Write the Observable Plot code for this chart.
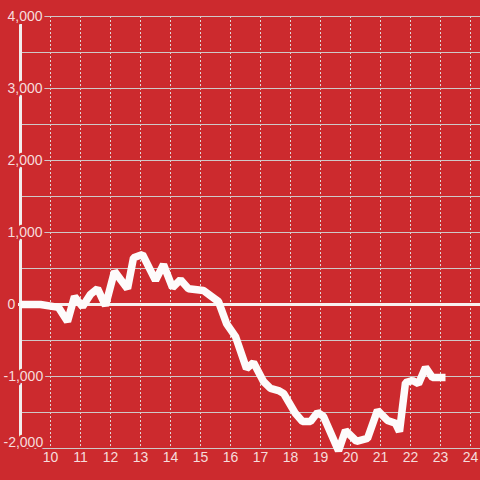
<!DOCTYPE html>
<html>
<head>
<meta charset="utf-8">
<script src="https://cdn.jsdelivr.net/npm/d3@7"></script>
<script src="https://cdn.jsdelivr.net/npm/@observablehq/plot@0.6"></script>
<style>
  html, body { margin: 0; padding: 0; background: #cc2a2e; }
  svg { display: block; }
</style>
</head>
<body>
<div id="chart"></div>
<script>
// Hours of day (x) and values (y)
const hours = [9.0, 9.667, 10.267, 10.567, 10.8, 11.067, 11.333, 11.567, 11.833, 12.133,
  12.567, 12.767, 13.067, 13.5, 13.767, 14.067, 14.333, 14.6, 15.1, 15.6,
  15.867, 16.167, 16.533, 16.767, 17.1, 17.333, 17.6, 17.77, 18.167, 18.4,
  18.667, 18.9, 19.1, 19.6, 19.833, 20.2, 20.567, 20.9, 21.233, 21.5,
  21.633, 21.833, 22.067, 22.267, 22.5, 22.733, 23.167];
const values = [0, 0, -40, -235, 110, -30, 140, 220, -15, 460,
  220, 650, 695, 335, 555, 235, 345, 220, 195, 40,
  -265, -445, -890, -805, -1070, -1165, -1195, -1235, -1515, -1625,
  -1625, -1500, -1555, -2030, -1750, -1900, -1860, -1470, -1610, -1650,
  -1765, -1085, -1055, -1100, -875, -1015, -1015];

const xTicks = [10, 11, 12, 13, 14, 15, 16, 17, 18, 19, 20, 21, 22, 23, 24];
const yGrid = [-2000, -1500, -1000, -500, 500, 1000, 1500, 2000, 2500, 3000, 3500, 4000];
const yLabels = [0, 1000, 2000, 3000, 4000];
const yNegLabels = [-1000];
const yBottomLabel = [-2000];
const xDomain = [25 / 3, 73 / 3];
const yDomain = [-2000, 4000];
const axisOrigin = [9];
const axisExtent = [-1890, 3890];

const data = hours.map((h, i) => ({h, v: values[i]}));
const fmt = v => d3.format(",")(v).replace("\u2212", "-");

const RED = "#cc2a2e";
const LABEL = "#f6dcdc";
const FONT = "Liberation Sans, Arial, sans-serif";
const labelStyle = {frameAnchor: "left", textAnchor: "start", fill: LABEL, stroke: RED, strokeWidth: 5, fontSize: 14};

const chart = Plot.plot({
  width: 480,
  height: 480,
  marginLeft: 0,
  marginRight: 0,
  marginTop: 16,
  marginBottom: 32,
  x: {domain: xDomain, axis: null},
  y: {domain: yDomain, axis: null},
  style: {background: RED, fontFamily: FONT},
  marks: [
    Plot.ruleX(xTicks, {stroke: "#e0d6d6", strokeWidth: 1, strokeDasharray: "2,2"}),
    Plot.ruleY(yGrid, {stroke: "#cfc8c8", strokeWidth: 1.2, insetLeft: 22}),
    Plot.ruleY([0], {stroke: "#f7f0f0", strokeWidth: 3, insetLeft: 18}),
    Plot.ruleX(axisOrigin, {y1: axisExtent[0], y2: axisExtent[1], stroke: "#f2eeee", strokeWidth: 3}),
    Plot.text(yLabels, {y: d => d, text: fmt, dx: 7, ...labelStyle}),
    Plot.text(yNegLabels, {y: d => d, text: fmt, dx: 3, ...labelStyle}),
    Plot.text(yBottomLabel, {y: d => d, text: fmt, dx: 3, dy: -6, ...labelStyle}),
    Plot.text(xTicks, {x: d => d, text: d => String(d), frameAnchor: "bottom", dy: 13,
      fill: LABEL, fontSize: 14}),
    Plot.line(data, {x: "h", y: "v", stroke: "#fdfbfb", strokeWidth: 7.5,
      strokeLinejoin: "miter", strokeLinecap: "butt"})
  ]
});
document.getElementById("chart").appendChild(chart);
</script>
</body>
</html>
